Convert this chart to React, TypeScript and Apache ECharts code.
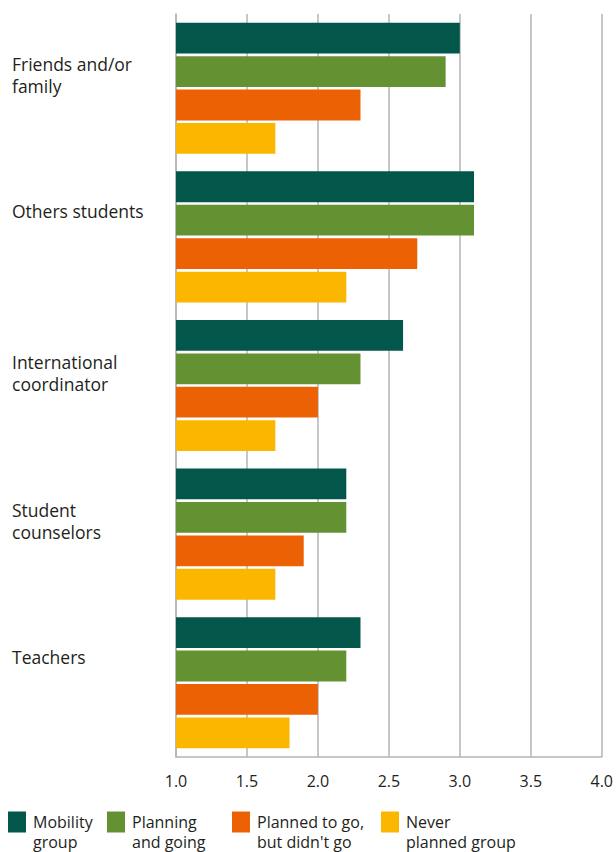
import React, { useEffect, useRef } from "react";
import * as echarts from "echarts";

const categories = [
  "Friends and/or\nfamily",
  "Others students",
  "International\ncoordinator",
  "Student\ncounselors",
  "Teachers",
];
const seriesNames = ["Mobility group", "Planning and going", "Planned to go, but didn't go", "Never planned group"];
const legendLabels = ["Mobility\ngroup", "Planning\nand going", "Planned to go,\nbut didn't go", "Never\nplanned group"];
const mobilityGroup = [3.0, 3.1, 2.6, 2.2, 2.3];
const planningAndGoing = [2.9, 3.1, 2.3, 2.2, 2.2];
const plannedDidntGo = [2.3, 2.7, 2.0, 1.9, 2.0];
const neverPlanned = [1.7, 2.2, 1.7, 1.7, 1.8];
const seriesValues = [mobilityGroup, planningAndGoing, plannedDidntGo, neverPlanned];
const colors = ["#02574A", "#649232", "#EC6103", "#FBB600"];
const xMin = 1.0;
const xMax = 4.0;
const xInterval = 0.5;
const legendLefts = [8, 107, 232, 381];

const FONT = "'Open Sans', 'Noto Sans', sans-serif";
const TEXT = "#231F20";
const GRID = "#b4b4b4";

export default function App() {
  const ref = useRef<HTMLDivElement>(null);
  useEffect(() => {
    if (!ref.current) return;
    const chart = echarts.init(ref.current, undefined, { renderer: "svg" });
    chart.setOption({
      animation: false,
      textStyle: { fontFamily: FONT },
      grid: { left: 176, right: 12, top: 14, bottom: 95, containLabel: false },
      xAxis: {
        type: "value",
        min: xMin,
        max: xMax,
        interval: xInterval,
        axisLine: { show: true, lineStyle: { color: GRID, width: 1.5 } },
        axisTick: { show: false },
        splitLine: { show: true, lineStyle: { color: GRID, width: 1.5 } },
        axisLabel: {
          color: TEXT,
          fontSize: 16,
          fontFamily: FONT,
          margin: 16,
          formatter: (v: number) => v.toFixed(1),
        },
      },
      yAxis: {
        type: "category",
        inverse: true,
        data: categories,
        axisLine: { show: true, lineStyle: { color: GRID, width: 1.5 } },
        axisTick: { show: false },
        axisLabel: {
          color: TEXT,
          fontSize: 17.5,
          fontFamily: FONT,
          align: "left",
          margin: 164,
          lineHeight: 22,
          verticalAlign: "middle",
          formatter: (v: string) => v + "\n{s" + v.split("\n").length + "| }",
          rich: {
            s1: { fontSize: 4, lineHeight: 52 },
            s2: { fontSize: 4, lineHeight: 26 },
          },
        },
      },
      legend: seriesNames.map((name, i) => ({
        data: [name],
        left: legendLefts[i],
        top: 792,
        padding: 0,
        itemWidth: 18,
        itemHeight: 21,
        icon: "rect",
        selectedMode: false,
        formatter: () => "\n" + legendLabels[i],
        textStyle: {
          color: TEXT,
          fontSize: 16,
          fontFamily: FONT,
          lineHeight: 20,
          padding: [0, 0, 0, 2],
        },
      })),
      series: seriesNames.map((name, i) => ({
        name,
        type: "bar",
        data: seriesValues[i],
        itemStyle: { color: colors[i] },
        barCategoryGap: "11.8%",
        barGap: "8.5%",
      })),
    });
    return () => chart.dispose();
  }, []);
  return (
    <div
      ref={ref}
      style={{ position: "fixed", left: 0, top: 0, width: 616, height: 852, background: "#fff" }}
    />
  );
}
